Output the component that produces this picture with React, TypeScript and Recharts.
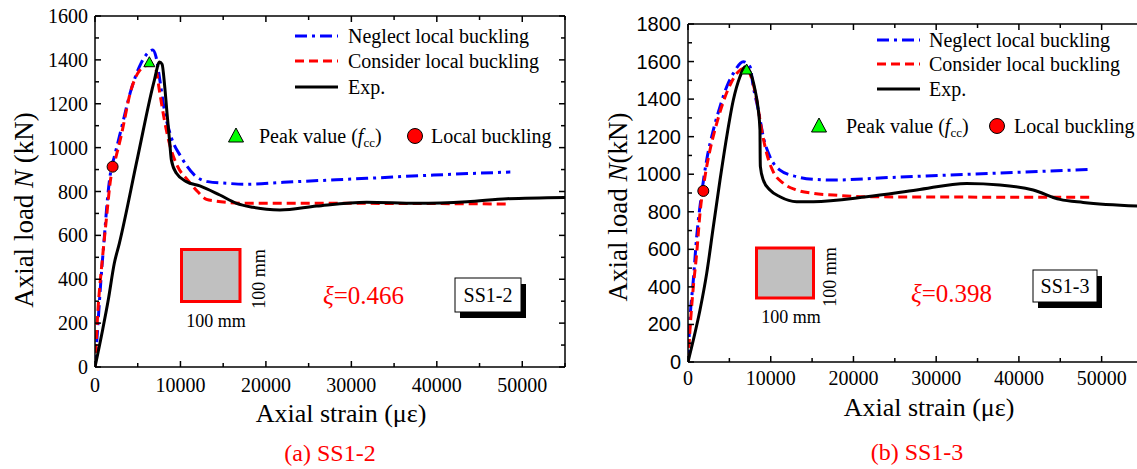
import React from "react";
import { ComposedChart, Line, Scatter, XAxis, YAxis } from "recharts";

// values: [axial strain (με), axial load (kN)]
const ss12Neglect = [
  [0, 0], [300, 170], [700, 400], [1100, 595], [1480, 775], [1870, 898], [2260, 958],
  [3040, 1080], [4210, 1262], [5380, 1384], [6100, 1428], [6750, 1445], [7140, 1414],
  [7530, 1323], [8120, 1171], [8900, 1050], [10070, 958], [11640, 875], [13200, 845],
  [15550, 837], [17500, 833], [22030, 842], [31800, 860], [39620, 875], [48600, 889],
];
const ss12Consider = [
  [0, 0], [300, 229], [890, 503], [1280, 655], [1870, 867], [2260, 928], [3040, 1050],
  [4210, 1262], [5000, 1339], [6170, 1376], [6600, 1378], [7140, 1354], [7530, 1262],
  [8120, 1126], [8700, 1020], [9680, 913], [10860, 852], [12030, 799], [13050, 764],
  [13980, 757], [15550, 750], [17500, 746], [30000, 746], [48600, 743],
];
const ss12Exp = [
  [0, 0], [890, 169], [1550, 305], [2260, 473], [2850, 564], [5000, 958], [6950, 1308],
  [7550, 1390], [7850, 1380], [8160, 1278], [8430, 1156], [8750, 1020], [8940, 943],
  [9530, 883], [10700, 845], [12270, 826], [14610, 784], [16560, 746], [18500, 728],
  [20080, 719], [21640, 716], [25940, 734], [31800, 751], [37670, 746], [43530, 753],
  [48220, 767], [55000, 773],
];
const ss12Peak = [[6360, 1387]];
const ss12Buckle = [[2060, 913]];

const ss13Neglect = [
  [0, 0], [240, 224], [645, 437], [1050, 667], [1650, 898], [2260, 1076], [3060, 1235],
  [3870, 1360], [4680, 1466], [5480, 1537], [6690, 1599], [7490, 1573], [7890, 1466],
  [8500, 1342], [9100, 1200], [9910, 1093], [11120, 1022], [13130, 987], [15150, 973],
  [17560, 969], [23600, 981], [31660, 996], [39720, 1010], [48580, 1026],
];
const ss13Consider = [
  [0, 0], [320, 224], [645, 401], [1050, 579], [1450, 792], [2050, 987], [2660, 1129],
  [3470, 1271], [4270, 1386], [5080, 1475], [6080, 1546], [6890, 1564], [7700, 1511],
  [8300, 1395], [8910, 1235], [9510, 1111], [10310, 1013], [11520, 952], [13130, 916],
  [15150, 898], [17560, 889], [21600, 880], [48580, 877],
];
const ss13Exp = [
  [0, 0], [645, 117], [1450, 277], [2260, 472], [3060, 720], [3870, 969], [4680, 1200],
  [5480, 1395], [6280, 1519], [6890, 1573], [7490, 1546], [8100, 1449], [8500, 1342],
  [8700, 1235], [8720, 1111], [8750, 1040], [9100, 969], [9910, 916], [11120, 880],
  [13130, 854], [15150, 854], [21600, 880], [27640, 916], [33680, 951], [37700, 943],
  [41730, 916], [44950, 866], [47770, 850], [55000, 830],
];
const ss13Peak = [[7090, 1555]];
const ss13Buckle = [[1850, 911]];

const strainTicks = [0, 5000, 10000, 15000, 20000, 25000, 30000, 35000, 40000, 45000, 50000, 55000];
const loadTicks12 = [0, 100, 200, 300, 400, 500, 600, 700, 800, 900, 1000, 1100, 1200, 1300, 1400, 1500, 1600];
const loadTicks13 = [0, 100, 200, 300, 400, 500, 600, 700, 800, 900, 1000, 1100, 1200, 1300, 1400, 1500, 1600, 1700, 1800];

const SERIF = '"Liberation Serif", "Times New Roman", serif';
const SANS = '"Liberation Sans", Arial, sans-serif';
const BLUE_DASH = "12 5 3 5";
const RED_DASH = "9 5";

const toPts = (arr) => arr.map(([x, y]) => ({ x, y }));

// inward ticks, labels drawn by hand
const xTick = (side, labelDy, font) => (p) => {
  const { x, y, payload } = p;
  const v = payload.value;
  const major = v % 10000 === 0;
  const len = major ? 6 : 4;
  const y2 = side === "bottom" ? y - len : y + len;
  return (
    <g>
      <line x1={x} x2={x} y1={y} y2={y2} stroke="#000" strokeWidth={1.5} />
      {side === "bottom" && major && v < 55000 && (
        <text x={x} y={y + labelDy} textAnchor="middle" dominantBaseline="central"
          fontFamily={font} fontSize={20} fill="#000">{v}</text>
      )}
    </g>
  );
};

const yTick = (side, font) => (p) => {
  const { x, y, payload } = p;
  const v = payload.value;
  const major = v % 200 === 0;
  const len = major ? 6 : 4;
  const x2 = side === "left" ? x + len : x - len;
  return (
    <g>
      <line x1={x} x2={x2} y1={y} y2={y} stroke="#000" strokeWidth={1.5} />
      {side === "left" && major && (
        <text x={x - 7} y={y} textAnchor="end" dominantBaseline="central"
          fontFamily={font} fontSize={20} fill="#000">{v}</text>
      )}
    </g>
  );
};

const Triangle = ({ cx, cy }) => (
  <polygon points={`${cx},${cy - 6} ${cx - 5.5},${cy + 4} ${cx + 5.5},${cy + 4}`}
    fill="#00ff00" stroke="#000" strokeWidth={1} />
);
const Dot = ({ cx, cy }) => <circle cx={cx} cy={cy} r={5.5} fill="#ff0000" stroke="#000" strokeWidth={1} />;

const axisLine = { stroke: "#000", strokeWidth: 1.5 };

const Panel = ({ neglect, consider, exp, peak, buckle, yMax, yTicks, margin, width, xLabelDy, yFont, rightAxis }) => (
  <ComposedChart width={width} height={469} margin={margin}>
    <XAxis type="number" dataKey="x" domain={[0, 55000]} ticks={strainTicks} interval={0}
      allowDataOverflow height={1} tickSize={0} tickMargin={0} axisLine={axisLine}
      tickLine={false} tick={xTick("bottom", xLabelDy, SERIF)} />
    <XAxis xAxisId="top" orientation="top" type="number" dataKey="x" domain={[0, 55000]}
      ticks={strainTicks} interval={0} allowDataOverflow height={1} tickSize={0} tickMargin={0}
      axisLine={axisLine} tickLine={false} tick={xTick("top", 0, SERIF)} />
    <YAxis type="number" domain={[0, yMax]} ticks={yTicks} interval={0} allowDataOverflow
      width={1} tickSize={0} tickMargin={0} axisLine={axisLine} tickLine={false}
      tick={yTick("left", yFont)} />
    {rightAxis && (
      <YAxis yAxisId="r" orientation="right" type="number" domain={[0, yMax]} ticks={yTicks}
        interval={0} allowDataOverflow width={1} tickSize={0} tickMargin={0} axisLine={axisLine}
        tickLine={false} tick={yTick("right", yFont)} />
    )}
    <Line data={toPts(neglect)} dataKey="y" type="monotone" stroke="#0000ff" strokeWidth={3}
      strokeDasharray={BLUE_DASH} dot={false} isAnimationActive={false} />
    <Line data={toPts(consider)} dataKey="y" type="monotone" stroke="#ff0000" strokeWidth={3}
      strokeDasharray={RED_DASH} dot={false} isAnimationActive={false} />
    <Line data={toPts(exp)} dataKey="y" type="monotone" stroke="#000" strokeWidth={3}
      dot={false} isAnimationActive={false} />
    <Scatter data={toPts(buckle)} dataKey="y" shape={Dot} isAnimationActive={false} />
    <Scatter data={toPts(peak)} dataKey="y" shape={Triangle} isAnimationActive={false} />
  </ComposedChart>
);

const Legend = ({ lx, tx, rows, mY, triX, triTx, cirX, cirTx }) => (
  <g fontFamily={SERIF} fontSize={20} fill="#000">
    <line x1={lx} x2={lx + 43} y1={rows[0]} y2={rows[0]} stroke="#0000ff" strokeWidth={3} strokeDasharray={BLUE_DASH} />
    <text x={tx} y={rows[0]} dominantBaseline="central">Neglect local buckling</text>
    <line x1={lx} x2={lx + 43} y1={rows[1]} y2={rows[1]} stroke="#ff0000" strokeWidth={3} strokeDasharray={RED_DASH} />
    <text x={tx} y={rows[1]} dominantBaseline="central">Consider local buckling</text>
    <line x1={lx} x2={lx + 43} y1={rows[2]} y2={rows[2]} stroke="#000" strokeWidth={3} />
    <text x={tx} y={rows[2]} dominantBaseline="central">Exp.</text>
    <polygon points={`${triX},${mY - 8} ${triX - 7.5},${mY + 6} ${triX + 7.5},${mY + 6}`} fill="#00ff00" stroke="#000" strokeWidth={1} />
    <text x={triTx} y={mY} dominantBaseline="central">
      Peak value (<tspan fontStyle="italic">f</tspan><tspan fontSize={13} dy={6}>cc</tspan><tspan dy={-6}>)</tspan>
    </text>
    <circle cx={cirX} cy={mY} r={7.5} fill="#ff0000" stroke="#000" strokeWidth={1} />
    <text x={cirTx} y={mY} dominantBaseline="central">Local buckling</text>
  </g>
);

const Inset = ({ x, y, w, h, bx, by, rx, ry }) => (
  <g fontFamily={SERIF} fontSize={18} fill="#000">
    <rect x={x} y={y} width={w} height={h} fill="#c0c0c0" stroke="#ff0000" strokeWidth={3} />
    <text x={bx} y={by} textAnchor="middle" dominantBaseline="central">100 mm</text>
    <text x={rx} y={ry} textAnchor="middle" dominantBaseline="central" transform={`rotate(-90, ${rx}, ${ry})`}>100 mm</text>
  </g>
);

const Tag = ({ x, y, w, h, label }) => (
  <g>
    <rect x={x + 5} y={y + 6} width={w} height={h} fill="#000" />
    <rect x={x} y={y} width={w} height={h} fill="#fff" stroke="#000" strokeWidth={1} />
    <text x={x + w / 2} y={y + h / 2} textAnchor="middle" dominantBaseline="central" fontFamily={SERIF} fontSize={20}>{label}</text>
  </g>
);

export default function App() {
  return (
    <div style={{ position: "fixed", left: 0, top: 0, width: 1137, height: 469, overflow: "hidden", background: "#fff" }}>
      <div style={{ position: "absolute", left: 0, top: 0 }}>
        <Panel neglect={ss12Neglect} consider={ss12Consider} exp={ss12Exp} peak={ss12Peak} buckle={ss12Buckle}
          yMax={1600} yTicks={loadTicks12} width={580} xLabelDy={18} yFont={SERIF} rightAxis
          margin={{ top: 15, right: 14, bottom: 101, left: 94 }} />
      </div>
      <div style={{ position: "absolute", left: 570, top: 0 }}>
        <Panel neglect={ss13Neglect} consider={ss13Consider} exp={ss13Exp} peak={ss13Peak} buckle={ss13Buckle}
          yMax={1800} yTicks={loadTicks13} width={600} xLabelDy={16} yFont={SANS} rightAxis={false}
          margin={{ top: 23, right: 27, bottom: 106, left: 117 }} />
      </div>
      <svg width={1137} height={469} style={{ position: "absolute", left: 0, top: 0, pointerEvents: "none" }}>
        <Legend lx={295} tx={348} rows={[36, 61, 87]} mY={136} triX={236} triTx={259} cirX={415} cirTx={431} />
        <Legend lx={877} tx={929} rows={[40, 64, 89]} mY={126} triX={819} triTx={846} cirX={997} cirTx={1014} />
        <Inset x={181.5} y={249.5} w={58.5} h={52} bx={216} by={321} rx={259} ry={279} />
        <Inset x={756.5} y={248} w={57} h={50} bx={791} by={317} rx={830} ry={277} />
        <Tag x={455} y={278} w={66} h={34} label="SS1-2" />
        <Tag x={1033} y={270} w={64} h={32} label="SS1-3" />
        <g fontFamily={SERIF} fontSize={25} fill="#ff0000">
          <text x={323} y={295} dominantBaseline="central"><tspan fontStyle="italic">ξ</tspan>=0.466</text>
          <text x={911} y={293} dominantBaseline="central"><tspan fontStyle="italic">ξ</tspan>=0.398</text>
        </g>
        <g fontFamily={SERIF} fontSize={26} fill="#000">
          <text x={341} y={413} textAnchor="middle" dominantBaseline="central">Axial strain (με)</text>
          <text x={929} y={407} textAnchor="middle" dominantBaseline="central">Axial strain (με)</text>
        </g>
        <g fontFamily={SERIF} fontSize={27} fill="#000">
          <text x={24} y={210} textAnchor="middle" dominantBaseline="central" transform="rotate(-90, 24, 210)">
            Axial load <tspan fontStyle="italic">N</tspan> (kN)
          </text>
          <text x={618} y={207} textAnchor="middle" dominantBaseline="central" transform="rotate(-90, 618, 207)">
            Axial load <tspan fontStyle="italic">N</tspan>(kN)
          </text>
        </g>
        <g fontFamily={SERIF} fontSize={24} fill="#ff0000">
          <text x={330} y={453} textAnchor="middle" dominantBaseline="central">(a) SS1-2</text>
          <text x={917} y={452} textAnchor="middle" dominantBaseline="central">(b) SS1-3</text>
        </g>
      </svg>
    </div>
  );
}
